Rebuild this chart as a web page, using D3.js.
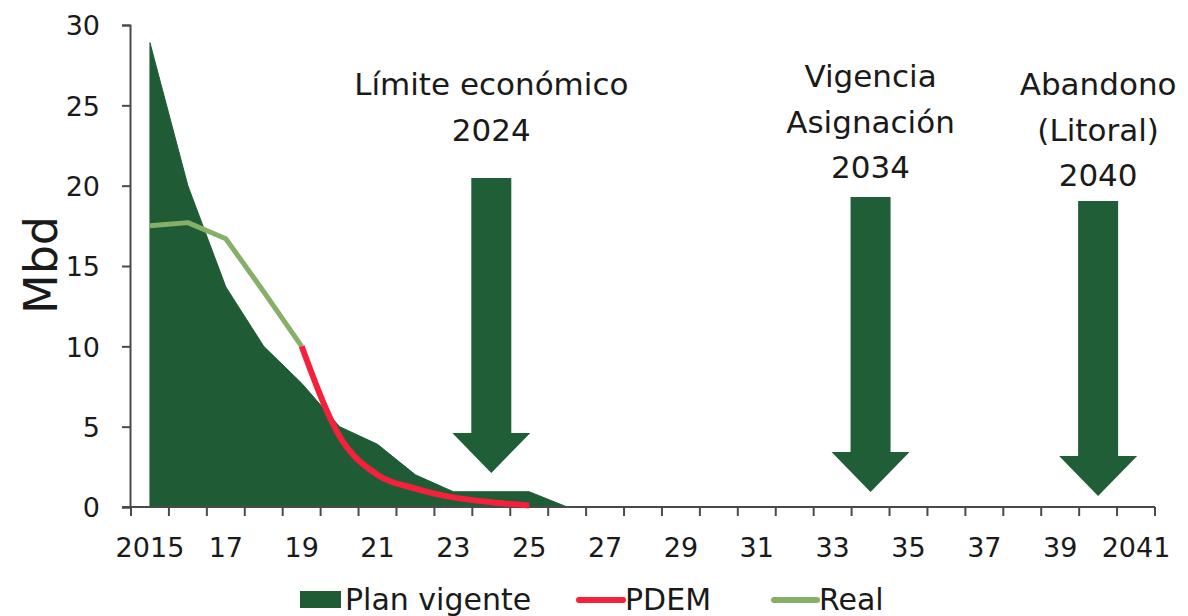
<!DOCTYPE html>
<html>
<head>
<meta charset="utf-8">
<script src="https://cdn.jsdelivr.net/npm/d3@7"></script>
<style>
  html, body { margin: 0; padding: 0; background: #ffffff; }
  svg { display: block; font-family: "DejaVu Sans", sans-serif; }
</style>
</head>
<body>
<svg id="chart" width="1188" height="616"></svg>
<script>
// Production profile (Mbd) by year
const years = [2015, 2016, 2017, 2018, 2019, 2020, 2021, 2022, 2023, 2024, 2025, 2026, 2027,
  2028, 2029, 2030, 2031, 2032, 2033, 2034, 2035, 2036, 2037, 2038, 2039, 2040, 2041];
const xTickLabels = ["2015", "17", "19", "21", "23", "25", "27", "29", "31", "33", "35", "37", "39", "2041"];
const yTicks = [0, 5, 10, 15, 20, 25, 30];

// Plan vigente (area), 2015–2031
const planYears = [2015, 2016, 2017, 2018, 2019, 2020, 2021, 2022, 2023, 2024, 2025, 2026, 2027, 2028, 2029, 2030, 2031];
const planVigente = [28.9, 20.0, 13.7, 10.0, 7.7, 5.0, 3.9, 2.0, 0.95, 0.95, 0.95, 0, 0, 0, 0, 0, 0];

// PDEM, 2019–2025
const pdemYears = [2019, 2020, 2021, 2022, 2023, 2024, 2025];
const pdem = [10.0, 4.4, 2.0, 1.15, 0.6, 0.3, 0.1];

// Real, 2015–2019
const realYears = [2015, 2016, 2017, 2018, 2019];
const real = [17.5, 17.7, 16.7, 13.4, 10.0];

// Milestones marked with arrows
const milestoneYears = [2024, 2034, 2040];
const milestoneLabels = [
  ["Límite económico", "2024"],
  ["Vigencia", "Asignación", "2034"],
  ["Abandono", "(Litoral)", "2040"]
];

const legendLabels = ["Plan vigente", "PDEM", "Real"];

const colors = {
  plan: "#1f5c35",
  pdem: "#f4203c",
  real: "#86b068",
  arrow: "#1f5e37",
  axis: "#4a4a4a",
  text: "#1a1a1a",
  zeroLine: "#6f93bd"
};

const svg = d3.select("#chart");

const x = d3.scaleBand().domain(years).range([131, 1155]).paddingInner(0).paddingOuter(0);
const y = d3.scaleLinear().domain([0, 30]).range([507, 25]);
const cx = yr => x(yr) + x.bandwidth() / 2;

// ---- Plan vigente area ----
const planData = planYears.map((yr, i) => ({ yr, v: planVigente[i] }));
svg.append("path")
  .datum(planData)
  .attr("fill", colors.plan)
  .attr("stroke", colors.plan)
  .attr("stroke-width", 1)
  .attr("stroke-linejoin", "round")
  .attr("d", d3.area()
    .x(d => cx(d.yr))
    .y0(y(0))
    .y1(d => y(d.v))
    .curve(d3.curveLinear));

// thin line where the plan runs at zero
svg.append("path")
  .datum(planData.filter(d => d.yr >= 2026))
  .attr("fill", "none")
  .attr("stroke", colors.zeroLine)
  .attr("stroke-width", 1.5)
  .attr("d", d3.line().x(d => cx(d.yr)).y(d => y(d.v)));

// ---- Axes ----
const yAxis = d3.axisLeft(y).tickValues(yTicks).tickSize(8).tickPadding(22);
const gy = svg.append("g").attr("transform", "translate(130,0)").call(yAxis);
gy.select(".domain").attr("stroke", colors.axis).attr("stroke-width", 2);
gy.selectAll(".tick line").attr("stroke", colors.axis).attr("stroke-width", 2);
gy.selectAll(".tick text")
  .attr("fill", colors.text)
  .style("font-family", "DejaVu Sans, sans-serif")
  .style("font-size", "27px")
  .attr("dy", "0.36em");

// x axis baseline and ticks at year boundaries
const gx = svg.append("g");
gx.append("line")
  .attr("x1", 122).attr("x2", x.range()[1])
  .attr("y1", y(0)).attr("y2", y(0))
  .attr("stroke", colors.axis).attr("stroke-width", 2);
const boundaries = years.map(yr => x(yr)).concat([x.range()[1]]);
gx.selectAll("line.tick")
  .data(boundaries)
  .join("line")
  .attr("class", "tick")
  .attr("x1", d => d).attr("x2", d => d)
  .attr("y1", y(0)).attr("y2", y(0) + 9)
  .attr("stroke", colors.axis).attr("stroke-width", 2);
const labelYears = years.filter((yr, i) => i % 2 === 0);
gx.selectAll("text.tl")
  .data(labelYears)
  .join("text")
  .attr("class", "tl")
  .attr("x", d => cx(d))
  .attr("y", 557)
  .attr("text-anchor", "middle")
  .attr("fill", colors.text)
  .style("font-size", "27px")
  .text((d, i) => xTickLabels[i]);

// y axis title
svg.append("text")
  .attr("transform", "translate(57,265) rotate(-90)")
  .attr("text-anchor", "middle")
  .attr("fill", colors.text)
  .style("font-size", "46px")
  .text("Mbd");

// ---- Lines ----
svg.append("path")
  .datum(realYears.map((yr, i) => ({ yr, v: real[i] })))
  .attr("fill", "none")
  .attr("stroke", colors.real)
  .attr("stroke-width", 5)
  .attr("stroke-linejoin", "round")
  .attr("d", d3.line().x(d => cx(d.yr)).y(d => y(d.v)));

svg.append("path")
  .datum(pdemYears.map((yr, i) => ({ yr, v: pdem[i] })))
  .attr("fill", "none")
  .attr("stroke", colors.pdem)
  .attr("stroke-width", 6)
  .attr("stroke-linejoin", "round")
  .attr("d", d3.line().x(d => cx(d.yr)).y(d => y(d.v)).curve(d3.curveMonotoneX));

// ---- Milestone arrows ----
const arrowLayout = [
  { top: 178, tip: 473, labelY: 95 },
  { top: 197, tip: 492, labelY: 87 },
  { top: 201, tip: 496, labelY: 95 }
];
const shaftHalf = 20, headHalf = 39, headH = 40, lineGap = 45.5;

milestoneYears.forEach((yr, i) => {
  const c = cx(yr);
  const L = arrowLayout[i];
  const headTop = L.tip - headH;
  const pts = [
    [c - shaftHalf, L.top], [c + shaftHalf, L.top], [c + shaftHalf, headTop],
    [c + headHalf, headTop], [c, L.tip], [c - headHalf, headTop], [c - shaftHalf, headTop]
  ];
  svg.append("path")
    .attr("d", "M" + pts.map(p => p.join(",")).join("L") + "Z")
    .attr("fill", colors.arrow);

  const t = svg.append("text")
    .attr("text-anchor", "middle")
    .attr("fill", colors.text)
    .style("font-size", "31px");
  milestoneLabels[i].forEach((line, j) => {
    t.append("tspan").attr("x", c).attr("y", L.labelY + j * lineGap).text(line);
  });
});

// ---- Legend ----
const lg = svg.append("g").style("font-size", "30px").attr("fill", colors.text);
lg.append("rect").attr("x", 300).attr("y", 591).attr("width", 41).attr("height", 17).attr("fill", colors.plan);
lg.append("text").attr("x", 345).attr("y", 610).text(legendLabels[0]);
lg.append("line").attr("x1", 579).attr("x2", 623).attr("y1", 600).attr("y2", 600)
  .attr("stroke", colors.pdem).attr("stroke-width", 6).attr("stroke-linecap", "round");
lg.append("text").attr("x", 625).attr("y", 610).text(legendLabels[1]);
lg.append("line").attr("x1", 774).attr("x2", 817).attr("y1", 600).attr("y2", 600)
  .attr("stroke", colors.real).attr("stroke-width", 6).attr("stroke-linecap", "round");
lg.append("text").attr("x", 819).attr("y", 610).text(legendLabels[2]);
</script>
</body>
</html>
